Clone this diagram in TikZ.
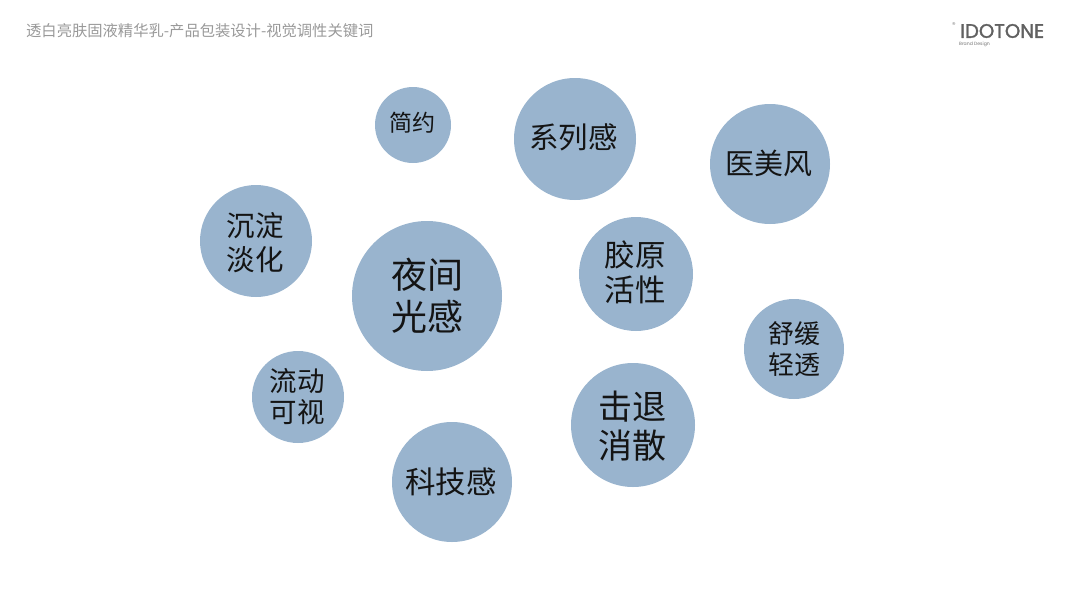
\documentclass[tikz,border=0pt]{standalone}
\usepackage{fontspec}
\setmainfont{Noto Sans CJK SC}
\newfontfamily\logofont[FakeBold=1.6]{Poppins}
\newfontfamily\logosmall{Poppins}
\definecolor{bubble}{RGB}{153,180,206}
\newcommand{\fs}[2]{\fontsize{#1pt}{#2pt}\selectfont}
\tikzset{x=1pt,y=-1pt,
 bub/.style={circle,fill=bubble,draw=none,inner sep=0pt,minimum size=#1*2pt},
 bt/.style={align=center,text=black!92,inner sep=0pt}}
\begin{document}
\begin{tikzpicture}
\useasboundingbox (0,0) rectangle (1066,600);
\node[anchor=west,inner sep=0pt,text=black!40,font=\fs{15.3}{18}] (title) at (26,31) {透白亮肤固液精华乳-产品包装设计-视觉调性关键词};
\node[bub=38,label={[bt,font=\fs{23}{28},xshift=-1pt,yshift=2.5pt]center:简约}] (a) at (413,125) {};
\node[bub=61,label={[bt,font=\fs{29.5}{34},xshift=-1.5pt,yshift=1.5pt]center:系列感}] (b) at (575,139) {};
\node[bub=60,label={[bt,font=\fs{29}{34},xshift=-1pt,yshift=1pt]center:医美风}] (c) at (770,164) {};
\node[bub=56,label={[bt,font=\fs{28.5}{33.5},xshift=-1pt,yshift=-1.5pt]center:沉淀\\淡化}] (d) at (256,241) {};
\node[bub=75,label={[bt,font=\fs{36}{42},yshift=0pt]center:夜间\\光感}] (e) at (427,296) {};
\node[bub=57,label={[bt,font=\fs{30.5}{35},xshift=-1pt,yshift=1.5pt]center:胶原\\活性}] (f) at (636,274) {};
\node[bub=50,label={[bt,font=\fs{26}{31}]center:舒缓\\轻透}] (g) at (794,349) {};
\node[bub=46,label={[bt,font=\fs{27.5}{31},xshift=-1pt]center:流动\\可视}] (h) at (298,397) {};
\node[bub=62,label={[bt,font=\fs{34}{39},yshift=-1.5pt,xshift=-0.5pt]center:击退\\消散}] (i) at (633,425) {};
\node[bub=60,label={[bt,font=\fs{30.5}{36},xshift=-1pt]center:科技感}] (j) at (452,482) {};
\node[anchor=west,inner sep=0pt,text=black!62,font=\logofont\fontsize{19.6pt}{21pt}\selectfont] (logo) at (960,31) {IDOTONE};
\node[anchor=center,inner sep=0pt,text=black!45,font=\logosmall\fontsize{7pt}{8pt}\selectfont] (reg) at (954,25) {®};
\node[anchor=west,inner sep=0pt,text=black!55,font=\logosmall\fontsize{4.6pt}{5pt}\selectfont] (brand) at (959,44.5) {Brand Design};
\end{tikzpicture}
\end{document}
